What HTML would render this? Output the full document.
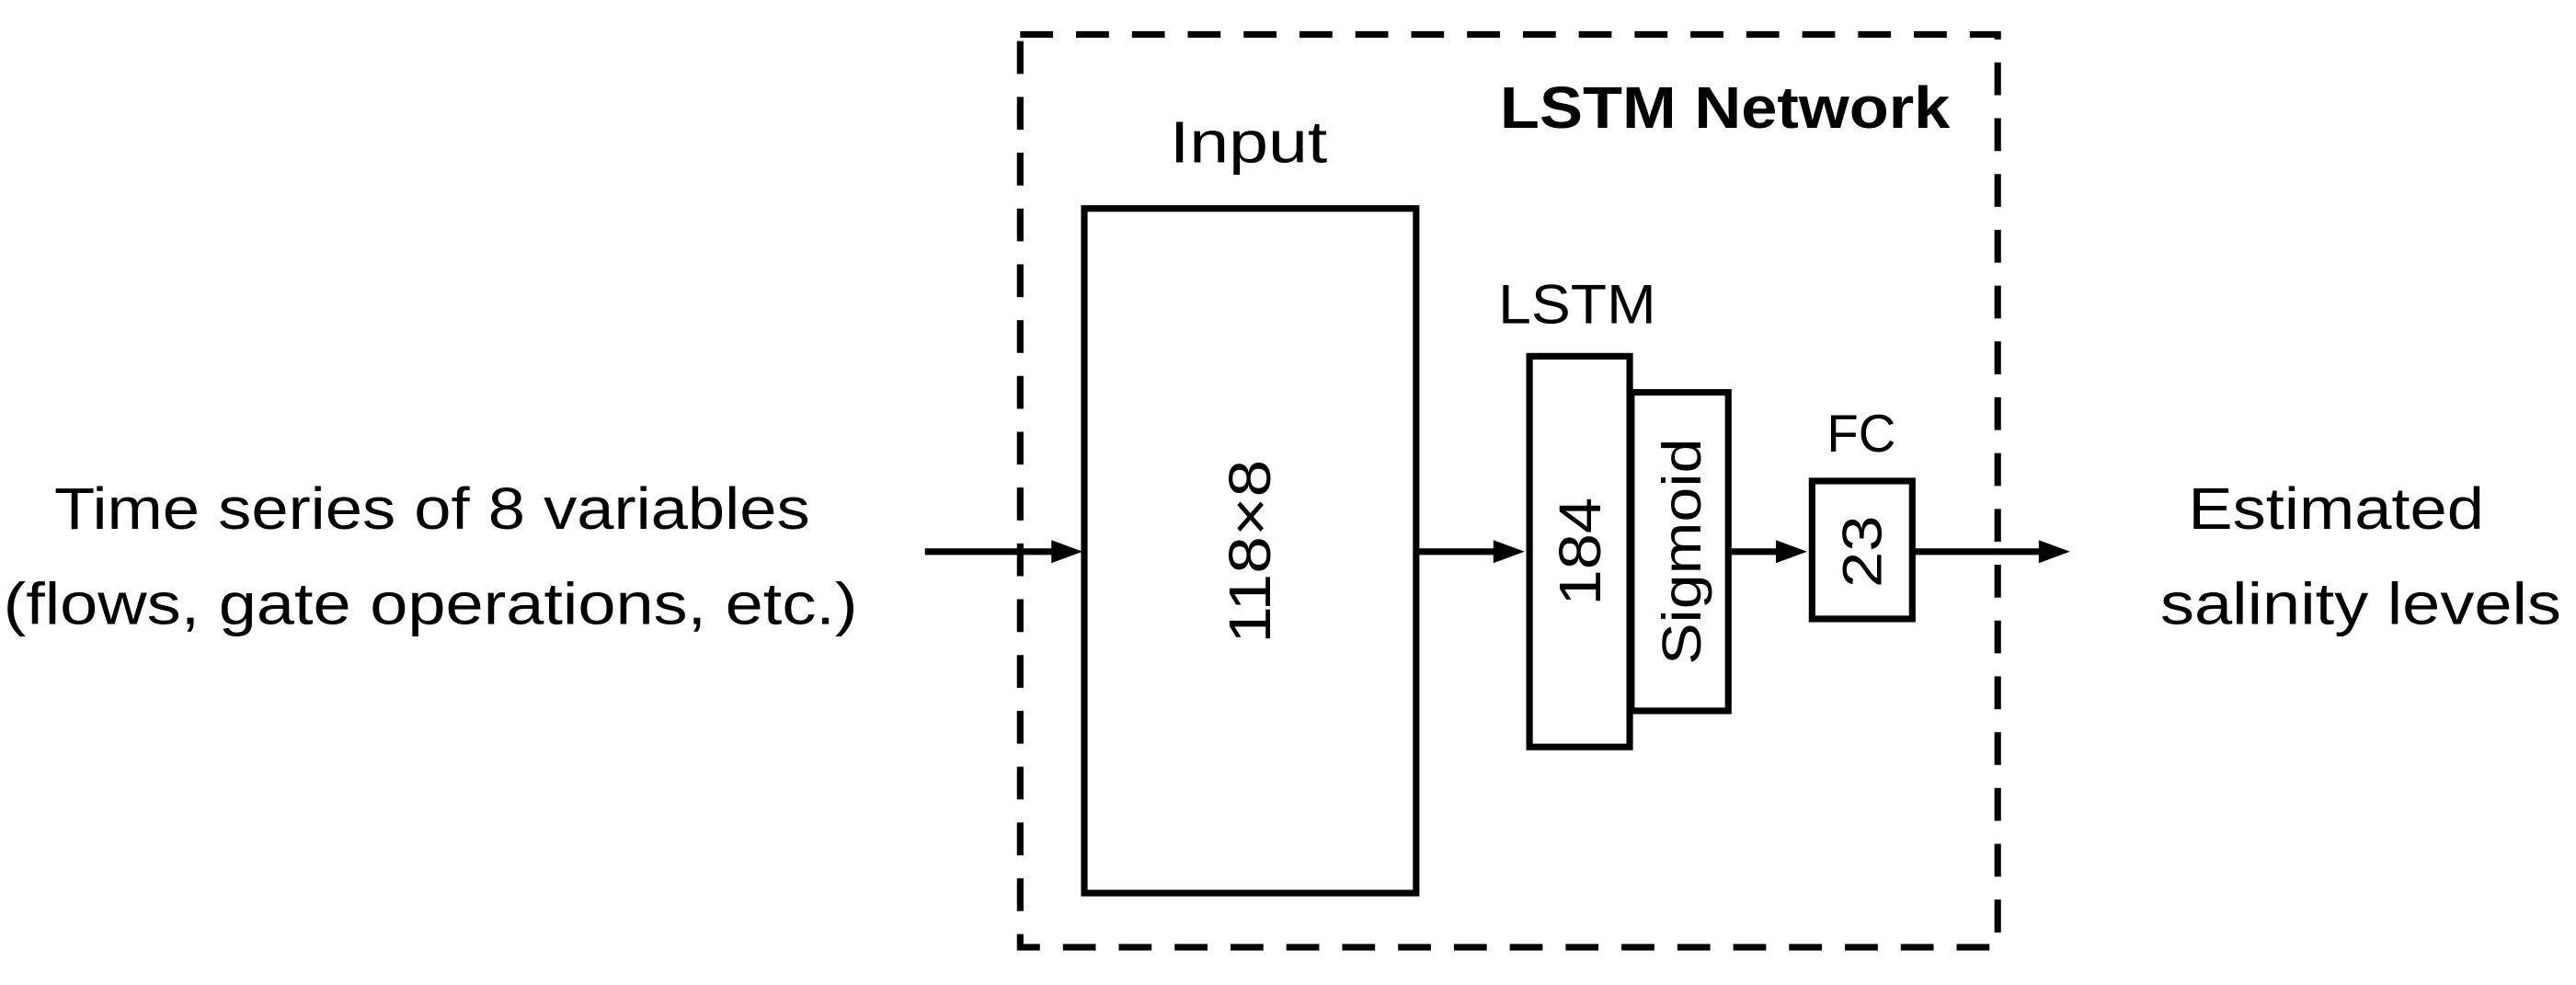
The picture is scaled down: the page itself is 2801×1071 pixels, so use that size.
<!DOCTYPE html>
<html><head><meta charset="utf-8"><style>html,body{margin:0;padding:0;background:#fff}svg{display:block}</style></head>
<body>
<svg width="2801" height="1071" viewBox="0 0 1568 600" preserveAspectRatio="none" xmlns="http://www.w3.org/2000/svg" font-family="'Liberation Sans', sans-serif">
<rect x="0" y="0" width="1568" height="600" fill="#fff"/>
<rect x="621" y="21" width="595" height="556" fill="none" stroke="#000" stroke-width="4" stroke-dasharray="20,14"/>
<text x="1050" y="78" font-size="36" font-weight="bold" text-anchor="middle" textLength="274" lengthAdjust="spacingAndGlyphs">LSTM Network</text>
<text x="760" y="99" font-size="36" text-anchor="middle" textLength="96" lengthAdjust="spacingAndGlyphs">Input</text>
<rect x="660" y="127" width="202" height="417" fill="none" stroke="#000" stroke-width="4"/>
<text transform="translate(773,336) rotate(-90)" font-size="36" text-anchor="middle" textLength="112" lengthAdjust="spacingAndGlyphs">118×8</text>
<text x="960" y="197" font-size="34" text-anchor="middle" textLength="96" lengthAdjust="spacingAndGlyphs">LSTM</text>
<rect x="931" y="217" width="61" height="238" fill="none" stroke="#000" stroke-width="4"/>
<text transform="translate(974,336) rotate(-90)" font-size="36" text-anchor="middle" textLength="66" lengthAdjust="spacingAndGlyphs">184</text>
<rect x="993" y="239" width="59" height="194" fill="none" stroke="#000" stroke-width="4"/>
<text transform="translate(1035,336) rotate(-90)" font-size="33" text-anchor="middle" textLength="138" lengthAdjust="spacingAndGlyphs">Sigmoid</text>
<text x="1133" y="275" font-size="32" text-anchor="middle" textLength="42" lengthAdjust="spacingAndGlyphs">FC</text>
<rect x="1103" y="293" width="61" height="84" fill="none" stroke="#000" stroke-width="4"/>
<text transform="translate(1145,336) rotate(-90)" font-size="34" text-anchor="middle" textLength="44" lengthAdjust="spacingAndGlyphs">23</text>
<g stroke="#000" stroke-width="4">
<line x1="563" y1="336" x2="645" y2="336"/>
<line x1="864" y1="336" x2="914" y2="336"/>
<line x1="1054" y1="336" x2="1086" y2="336"/>
<line x1="1165" y1="336" x2="1244" y2="336"/>
</g>
<g fill="#000">
<polygon points="640,329 659,336 640,343"/>
<polygon points="909,329 928,336 909,343"/>
<polygon points="1081,329 1100,336 1081,343"/>
<polygon points="1241,329 1260,336 1241,343"/>
</g>
<text x="263" y="322" font-size="36" text-anchor="middle" textLength="460" lengthAdjust="spacingAndGlyphs">Time series of 8 variables</text>
<text x="262" y="380" font-size="36" text-anchor="middle" textLength="520" lengthAdjust="spacingAndGlyphs">(flows, gate operations, etc.)</text>
<text x="1422" y="322" font-size="36" text-anchor="middle" textLength="180" lengthAdjust="spacingAndGlyphs">Estimated</text>
<text x="1437" y="380" font-size="36" text-anchor="middle" textLength="244" lengthAdjust="spacingAndGlyphs">salinity levels</text>
</svg>
</body></html>
